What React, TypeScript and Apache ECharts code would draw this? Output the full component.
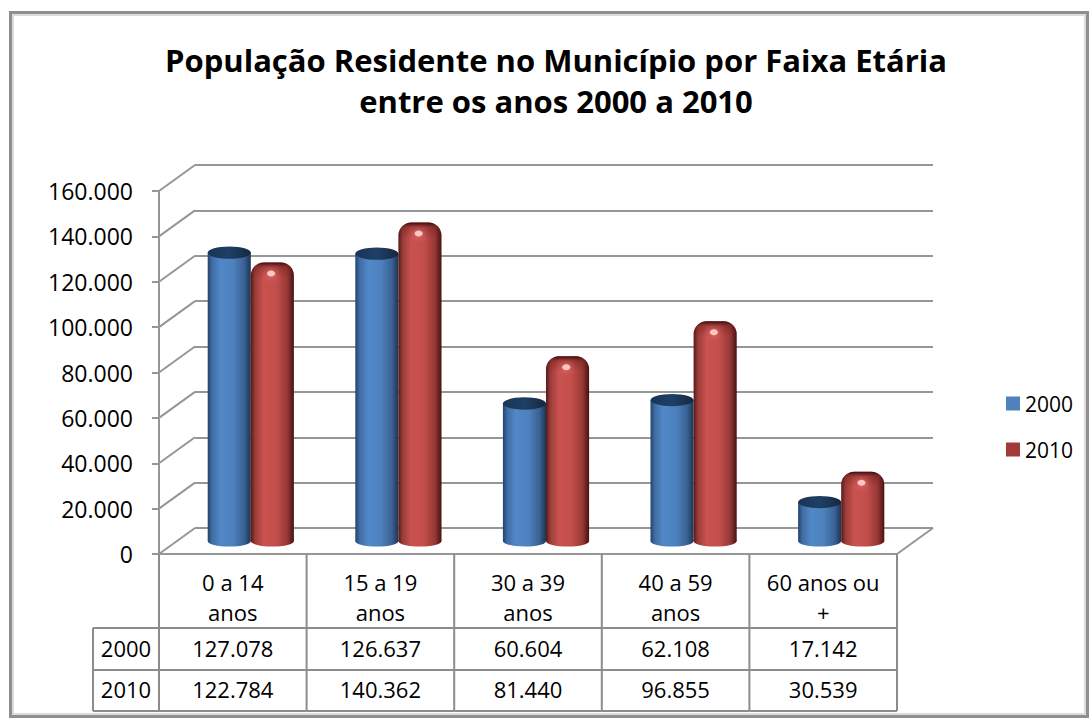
import React, { useEffect, useRef } from "react";
import * as echarts from "echarts";

// ---- data ----
const categories = ["0 a 14\nanos", "15 a 19\nanos", "30 a 39\nanos", "40 a 59\nanos", "60 anos ou\n+"];
const seriesNames = ["2000", "2010"];
const values2000 = [127078, 126637, 60604, 62108, 17142];
const values2010 = [122784, 140362, 81440, 96855, 30539];
const yTicks = [0, 20000, 40000, 60000, 80000, 100000, 120000, 140000, 160000];
const yMin = 0;
const yMax = 160000;
const yInterval = 20000;
const titleLines = ["População Residente no Município por Faixa Etária", "entre os anos 2000 a 2010"];

// ---- style / layout ----
const FONT = "'Open Sans', 'Noto Sans', sans-serif";
const GRID_COLOR = "#969696";
const TABLE_COLOR = "#8c8c8c";
const FRONT = { left: 159, top: 191, width: 738, height: 363 };
const DX = 36;
const DY = -26;
const BACK = { left: FRONT.left + DX, top: FRONT.top + DY, width: FRONT.width, height: FRONT.height };
const BARS = { left: FRONT.left + DX / 2, top: FRONT.top + DY / 2, width: FRONT.width, height: FRONT.height };

const fmt = (n: number) => String(n).replace(/\B(?=(\d{3})+(?!\d))/g, ".");

const blueBody = () =>
  new echarts.graphic.LinearGradient(0, 0, 1, 0, [
    { offset: 0, color: "#24436a" },
    { offset: 0.1, color: "#3f6ca3" },
    { offset: 0.3, color: "#5288c8" },
    { offset: 0.6, color: "#4d80bd" },
    { offset: 0.85, color: "#3a6193" },
    { offset: 1, color: "#1d3452" },
  ]);
const redBody = () =>
  new echarts.graphic.LinearGradient(0, 0, 1, 0, [
    { offset: 0, color: "#551917" },
    { offset: 0.1, color: "#9a3c39" },
    { offset: 0.3, color: "#c9524f" },
    { offset: 0.6, color: "#c24e4b" },
    { offset: 0.85, color: "#963835" },
    { offset: 1, color: "#451210" },
  ]);

function cylinderRenderer(kind: number) {
  return (params: any, api: any) => {
    const i = api.value(0);
    const v = api.value(1);
    const [cx, base] = api.coord([i, 0]);
    const top = api.coord([i, v])[1];
    const band = api.size([1, 0])[0];
    const w = band * 0.292;
    const x0 = kind === 0 ? cx - w : cx;
    const mid = x0 + w / 2;
    const ry = w * 0.13;
    const children: any[] = [];
    if (kind === 0) {
      children.push(
        { type: "ellipse", shape: { cx: mid, cy: base, rx: w / 2, ry }, style: { fill: blueBody() } },
        { type: "rect", shape: { x: x0, y: top, width: w, height: base - top }, style: { fill: blueBody() } },
        {
          type: "ellipse",
          shape: { cx: mid, cy: top, rx: w / 2, ry: ry * 1.1 },
          style: {
            fill: new echarts.graphic.LinearGradient(0, 0, 1, 0, [
              { offset: 0, color: "#1a3556" },
              { offset: 0.5, color: "#1f3f66" },
              { offset: 1, color: "#132841" },
            ]),
          },
        }
      );
    } else {
      const r = Math.min(13, (base - top) / 2);
      children.push(
        { type: "ellipse", shape: { cx: mid, cy: base, rx: w / 2, ry }, style: { fill: redBody() } },
        { type: "rect", shape: { x: x0, y: top, width: w, height: base - top, r: [r, r, 0, 0] }, style: { fill: redBody() } },
        {
          type: "rect",
          shape: { x: x0, y: top, width: w, height: 16, r: [r, r, 0, 0] },
          style: {
            fill: new echarts.graphic.LinearGradient(0, 0, 0, 1, [
              { offset: 0, color: "rgba(40,6,6,0.9)" },
              { offset: 0.3, color: "rgba(90,20,20,0.35)" },
              { offset: 1, color: "rgba(120,30,30,0)" },
            ]),
          },
        },
        {
          type: "ellipse",
          shape: { cx: x0 + w * 0.47, cy: top + 11, rx: 4, ry: 3 },
          style: { fill: "#ffc4c4", shadowBlur: 6, shadowColor: "#ff8a8a" },
        }
      );
    }
    return { type: "group", children };
  };
}

export default function App() {
  const ref = useRef<HTMLDivElement>(null);
  useEffect(() => {
    if (!ref.current) return;
    const chart = echarts.init(ref.current, undefined, { renderer: "svg" });
    const line = (x1: number, y1: number, x2: number, y2: number, stroke: string) => ({
      type: "line",
      shape: { x1, y1, x2, y2 },
      style: { stroke, lineWidth: 2 },
    });
    const text = (t: string, x: number, y: number) => ({
      type: "text",
      style: {
        text: t,
        x,
        y,
        align: "center",
        verticalAlign: "middle",
        fontSize: 22,
        fontFamily: FONT,
        fill: "#000",
        lineHeight: 30,
      },
    });

    const valueAxisBase = { type: "value", min: yMin, max: yMax, interval: yInterval };
    const option: any = {
      animation: false,
      backgroundColor: "#fff",
      title: {
        text: titleLines.join("\n"),
        left: 551,
        top: 34,
        textAlign: "center",
        textStyle: { fontFamily: FONT, fontWeight: "bold", fontSize: 31, lineHeight: 41, color: "#000" },
      },
      legend: {
        orient: "vertical",
        left: 1001,
        top: 388,
        itemWidth: 14,
        itemHeight: 14,
        itemGap: 25,
        icon: "rect",
        textStyle: { fontFamily: FONT, fontSize: 21, color: "#000" },
        data: [
          { name: seriesNames[0], itemStyle: { color: "#4f81bd" } },
          { name: seriesNames[1], itemStyle: { color: "#a23a37" } },
        ],
      },
      graphic: [
        { type: "rect", shape: { x: 10.5, y: 12.5, width: 1077, height: 704 }, style: { fill: "none", stroke: "#8f8f8f", lineWidth: 3 } },
        { type: "rect", shape: { x: 13, y: 15, width: 1072, height: 699 }, style: { fill: "none", stroke: "#dcdcdc", lineWidth: 2 } },
      ],
      grid: [
        { ...FRONT },
        { ...BACK },
        { ...BARS },
      ],
      xAxis: [
        {
          type: "category",
          gridIndex: 0,
          data: categories,
          boundaryGap: true,
          axisLine: { show: true, lineStyle: { color: GRID_COLOR, width: 2 } },
          axisTick: { show: false },
          axisLabel: { show: false },
        },
        { type: "category", gridIndex: 1, data: categories, show: false },
        { type: "category", gridIndex: 2, data: categories, show: false },
      ],
      yAxis: [
        {
          ...valueAxisBase,
          gridIndex: 0,
          axisLine: { show: true, lineStyle: { color: GRID_COLOR, width: 2 } },
          axisTick: { show: true, length: 7, lineStyle: { color: GRID_COLOR, width: 2 } },
          axisLabel: { margin: 26, fontFamily: FONT, fontSize: 23, color: "#000", formatter: (v: number) => fmt(v) },
          splitLine: { show: false },
        },
        {
          ...valueAxisBase,
          gridIndex: 1,
          axisLine: { show: false },
          axisTick: { show: false },
          axisLabel: { show: false },
          splitLine: { show: true, lineStyle: { color: GRID_COLOR, width: 2 } },
        },
        {
          ...valueAxisBase,
          gridIndex: 2,
          axisLine: { show: false },
          axisTick: { show: false },
          axisLabel: { show: false },
          splitLine: { show: false },
        },
      ],
      series: [
        {
          name: "walls",
          type: "custom",
          xAxisIndex: 0,
          yAxisIndex: 0,
          silent: true,
          encode: { x: 0, y: 1 },
          data: yTicks.map((v) => [0, v]),
          renderItem: (params: any, api: any) => {
            const v = api.value(1);
            const y = api.coord([0, v])[1];
            const cs = params.coordSys;
            const children: any[] = [line(cs.x, y, cs.x + DX, y + DY, GRID_COLOR)];
            if (v === yMin) {
              const xr = cs.x + cs.width;
              children.push(line(xr, y, xr + DX, y + DY, GRID_COLOR));
            }
            return { type: "group", children };
          },
        },
        {
          name: "table",
          type: "custom",
          xAxisIndex: 0,
          yAxisIndex: 0,
          silent: true,
          z: 1,
          encode: { x: 0, y: 1 },
          data: categories.map((_, i) => [i, 0, values2000[i], values2010[i]]),
          renderItem: (params: any, api: any) => {
            const i = api.value(0);
            const cs = params.coordSys;
            const cx = api.coord([i, 0])[0];
            const band = api.size([1, 0])[0];
            const y0 = cs.y + cs.height;
            const xl = cx - band / 2;
            const xr = cx + band / 2;
            const r1 = y0 + 74;
            const r2 = y0 + 116;
            const r3 = y0 + 157;
            const children: any[] = [
              line(xr, y0, xr, r3, TABLE_COLOR),
              line(xl, r1, xr, r1, TABLE_COLOR),
              line(xl, r2, xr, r2, TABLE_COLOR),
              line(xl, r3, xr, r3, TABLE_COLOR),
              text(categories[i], cx, y0 + 43),
              text(fmt(api.value(2)), cx, y0 + 94),
              text(fmt(api.value(3)), cx, y0 + 135),
            ];
            if (i === 0) {
              const hx = xl - 66;
              children.push(
                line(xl, y0, xl, r3, TABLE_COLOR),
                line(hx, r1, xl, r1, TABLE_COLOR),
                line(hx, r2, xl, r2, TABLE_COLOR),
                line(hx, r3, xl, r3, TABLE_COLOR),
                line(hx, r1, hx, r3, TABLE_COLOR),
                text(seriesNames[0], (hx + xl) / 2, y0 + 94),
                text(seriesNames[1], (hx + xl) / 2, y0 + 135)
              );
            }
            return { type: "group", children };
          },
        },
        {
          name: seriesNames[0],
          type: "custom",
          xAxisIndex: 2,
          yAxisIndex: 2,
          z: 3,
          itemStyle: { color: "#4f81bd" },
          encode: { x: 0, y: 1 },
          data: values2000.map((v, i) => [i, v]),
          renderItem: cylinderRenderer(0),
        },
        {
          name: seriesNames[1],
          type: "custom",
          xAxisIndex: 2,
          yAxisIndex: 2,
          z: 3,
          itemStyle: { color: "#a23a37" },
          encode: { x: 0, y: 1 },
          data: values2010.map((v, i) => [i, v]),
          renderItem: cylinderRenderer(1),
        },
      ],
    };
    chart.setOption(option);
    return () => chart.dispose();
  }, []);
  return <div ref={ref} style={{ position: "absolute", left: 0, top: 0, width: 1091, height: 722 }} />;
}
